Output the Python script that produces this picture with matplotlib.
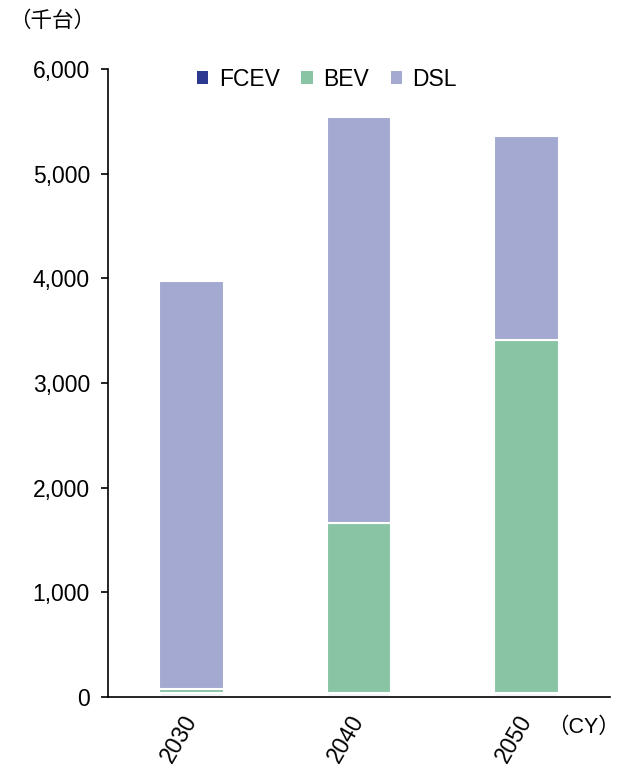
import matplotlib
matplotlib.use("Agg")
import matplotlib.pyplot as plt
import numpy as np

plt.rcParams['font.family'] = ['Liberation Sans', 'Noto Sans CJK JP', 'DejaVu Sans']

years = ["2030", "2040", "2050"]
fcev = [35, 35, 35]
bev = [45, 1627, 3375]
dsl = [3890, 3878, 1948]
yticks = [0, 1000, 2000, 3000, 4000, 5000, 6000]

c_fcev = "#2B3990"
c_bev = "#89C4A5"
c_dsl = "#A4A9D2"

fig = plt.figure(figsize=(6.2, 7.67), dpi=100)
ax = fig.add_axes([0.1742, 0.0913, 0.8098, 0.8187])

x = np.arange(len(years)) + 0.5
w = 0.385
fcev_a = np.array(fcev)
bev_a = np.array(bev)
dsl_a = np.array(dsl)
ax.bar(x, fcev_a, w, color=c_fcev, edgecolor="white", linewidth=2.8, label="FCEV")
ax.bar(x, bev_a, w, bottom=fcev_a, color=c_bev, edgecolor="white", linewidth=1.5, label="BEV")
ax.bar(x, dsl_a, w, bottom=fcev_a + bev_a, color=c_dsl, edgecolor="white", linewidth=1.5, label="DSL")

ax.set_xlim(0, 3)
ax.set_ylim(0, 6000)
ax.set_yticks(yticks)
ax.set_yticklabels([f"{v:,}" for v in yticks], fontsize=16.5)
ax.set_xticks(x)
ax.set_xticklabels(years, fontsize=16.5, rotation=60, ha="right", va="center",
                   rotation_mode="anchor")
ax.tick_params(axis="x", length=0, pad=14)
ax.tick_params(axis="y", direction="out", length=5, width=1.2, pad=8)

for s in ["top", "right"]:
    ax.spines[s].set_visible(False)
ax.spines["left"].set_linewidth(1.2)
ax.spines["bottom"].set_linewidth(1.2)

leg = ax.legend(loc="upper center", bbox_to_anchor=(0.436, 1.035), ncol=3, frameon=False,
                fontsize=16.5, handlelength=0.5, handleheight=0.5, handletextpad=0.45,
                columnspacing=0.95)
for h in leg.legend_handles:
    h.set_linewidth(0)

fig.text(0.014, 0.972, "（千台）", fontsize=15.5, ha="left", va="center")
fig.text(1.0, 0.052, "（CY）", fontsize=15.5, ha="right", va="center")

fig.savefig("out.png", dpi=100)
